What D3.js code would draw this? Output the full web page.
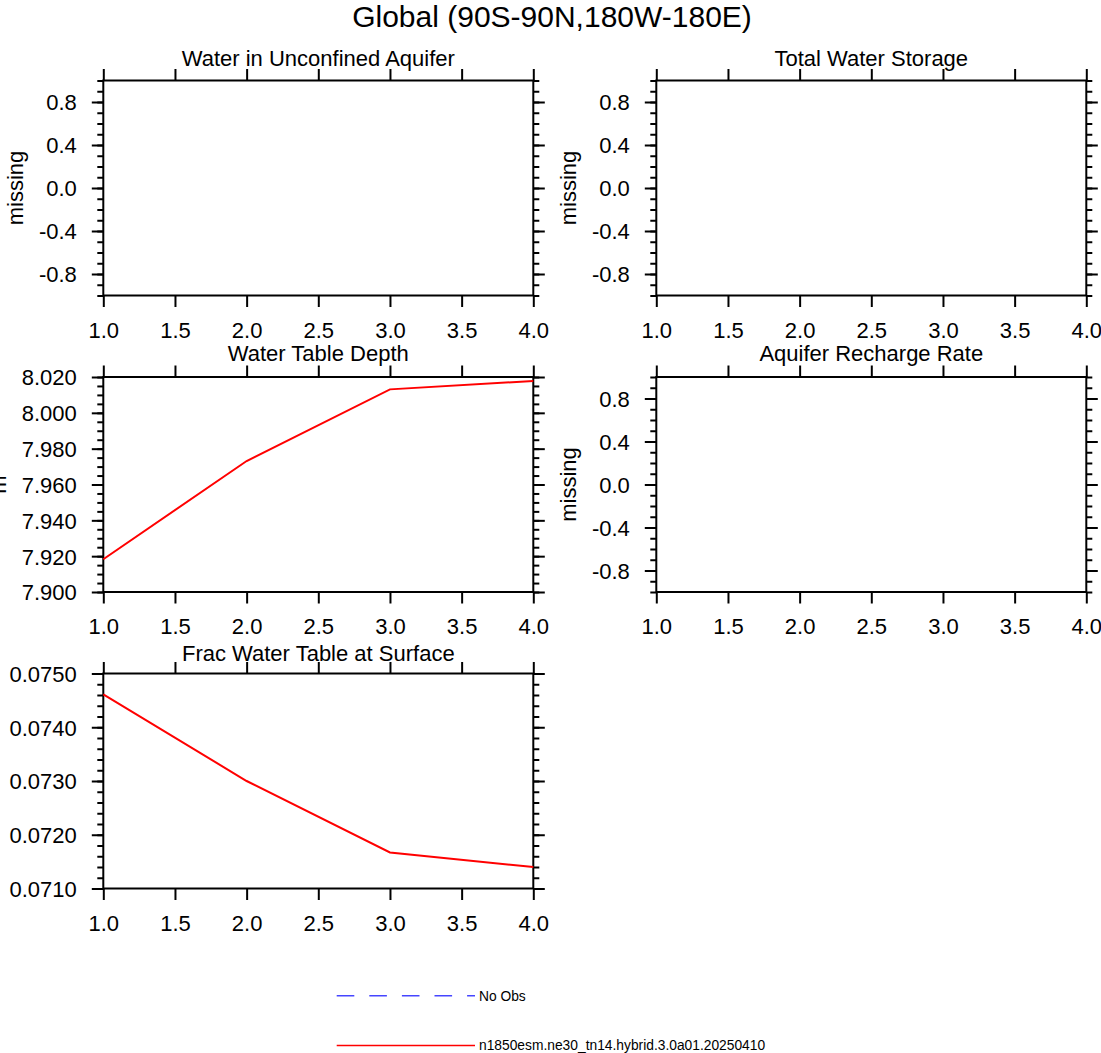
<!DOCTYPE html>
<html>
<head>
<meta charset="utf-8">
<script src="https://cdn.jsdelivr.net/npm/d3@7"></script>
<style>
  body { margin: 0; background: #fff; }
  svg { display: block; }
  text { font-family: "Liberation Sans", Arial, Helvetica, sans-serif; fill: #000; }
</style>
</head>
<body>
<div id="chart"></div>
<script>
// x values (years) shared by every panel
var years = [1, 2, 3, 4];
var xTicks = [1.0, 1.5, 2.0, 2.5, 3.0, 3.5, 4.0];

// panel titles / units
var panelTitles = ["Water in Unconfined Aquifer", "Total Water Storage", "Water Table Depth",
                   "Aquifer Recharge Rate", "Frac Water Table at Surface"];
var panelUnits = ["missing", "missing", "m", "missing", ""];

// series values (null = no data)
var waterUnconfined = null;
var totalWaterStorage = null;
var waterTableDepth = [7.9183, 7.9731, 8.0131, 8.0178];
var aquiferRecharge = null;
var fracWaterSurface = [0.07461, 0.07300, 0.07167, 0.07140];

// y axis setups: [min, max, major step, minor step, decimals]
var yEmpty = [-1, 1, 0.4, 0.1, 1];
var yDepth = [7.900, 8.020, 0.020, 0.005, 3];
var yFrac = [0.0710, 0.0750, 0.0010, 0.0002, 4];
var yEmptyMajors = [-0.8, -0.4, 0, 0.4, 0.8];

var legendLabels = ["No Obs", "n1850esm.ne30_tn14.hybrid.3.0a01.20250410"];
var legendColors = ["#4646ff", "#ff0000"];

var W = 1101, H = 1053;
var svg = d3.select("#chart").append("svg").attr("width", W).attr("height", H);

// plain hyphen for negative numbers, like the original plot
var locale = d3.formatLocale({decimal: ".", thousands: ",", grouping: [3], currency: ["", ""], minus: "-"});

svg.append("text")
  .attr("x", 552).attr("y", 27)
  .attr("text-anchor", "middle")
  .style("font-size", "30px")
  .text("Global (90S-90N,180W-180E)");

// layout of the panels
var colLeft = [103.3, 656.3];
var rowTop = [80.5, 377, 673.5];
var pw = 430, ph = 215;
var majorLen = 11.5, minorLen = 6;

var panels = [
  {title: panelTitles[0], unit: panelUnits[0], data: waterUnconfined, y: yEmpty, col: 0, row: 0, tgap: 15},
  {title: panelTitles[1], unit: panelUnits[1], data: totalWaterStorage, y: yEmpty, col: 1, row: 0, tgap: 15},
  {title: panelTitles[2], unit: panelUnits[2], data: waterTableDepth, y: yDepth, col: 0, row: 1, tgap: 16},
  {title: panelTitles[3], unit: panelUnits[3], data: aquiferRecharge, y: yEmpty, col: 1, row: 1, tgap: 16},
  {title: panelTitles[4], unit: panelUnits[4], data: fracWaterSurface, y: yFrac, col: 0, row: 2, tgap: 12.5}
];

function range(a, b, step) {
  var out = [];
  var n = Math.round((b - a) / step);
  for (var i = 0; i <= n; i++) out.push(a + i * step);
  return out;
}

panels.forEach(function(p) {
  var x0 = colLeft[p.col], y0 = rowTop[p.row];
  var g = svg.append("g").attr("transform", "translate(" + x0 + "," + y0 + ")");

  var xScale = d3.scaleLinear().domain([1, 4]).range([0, pw]);
  var yScale = d3.scaleLinear().domain([p.y[0], p.y[1]]).range([ph, 0]);
  var majors = (p.y === yEmpty) ? yEmptyMajors : range(p.y[0], p.y[1], p.y[2]);
  var minors = range(p.y[0], p.y[1], p.y[3]);

  // axes: outward ticks on all four sides
  var fmtX = locale.format(".1f"), fmtY = locale.format("." + p.y[4] + "f");
  var bottom = g.append("g").attr("transform", "translate(0," + ph + ")")
    .call(d3.axisBottom(xScale).tickValues(xTicks).tickFormat(fmtX).tickSize(majorLen).tickPadding(10));
  var top = g.append("g")
    .call(d3.axisTop(xScale).tickValues(xTicks).tickFormat("").tickSize(majorLen));
  var leftMinor = g.append("g")
    .call(d3.axisLeft(yScale).tickValues(minors).tickFormat("").tickSize(minorLen));
  var left = g.append("g")
    .call(d3.axisLeft(yScale).tickValues(majors).tickFormat(fmtY).tickSize(majorLen).tickPadding(15));
  var rightMinor = g.append("g").attr("transform", "translate(" + pw + ",0)")
    .call(d3.axisRight(yScale).tickValues(minors).tickFormat("").tickSize(minorLen));
  var right = g.append("g").attr("transform", "translate(" + pw + ",0)")
    .call(d3.axisRight(yScale).tickValues(majors).tickFormat("").tickSize(majorLen));

  [bottom, top, leftMinor, left, rightMinor, right].forEach(function(a) {
    a.select(".domain").remove();
    a.selectAll("line").attr("stroke", "#000").attr("stroke-width", 2);
    a.selectAll("text").style("font-size", "22px").attr("fill", "#000")
      .style("font-family", "Liberation Sans, Arial, sans-serif");
  });
  bottom.selectAll("text").attr("dy", "0.95em");
  left.selectAll("text").attr("dy", "0.36em");

  g.append("rect")
    .attr("width", pw).attr("height", ph)
    .attr("fill", "none").attr("stroke", "#000").attr("stroke-width", 2);

  g.append("text")
    .attr("x", pw / 2).attr("y", -p.tgap)
    .attr("text-anchor", "middle")
    .style("font-size", "22px")
    .text(p.title);

  // y-axis title goes left of the widest tick label
  var maxW = 0;
  left.selectAll("text").each(function() { maxW = Math.max(maxW, this.getComputedTextLength()); });
  if (p.unit) {
    var tx = -majorLen - 15 - maxW - 16;
    g.append("text")
      .attr("transform", "translate(" + tx + "," + (ph / 2) + ") rotate(-90)")
      .attr("text-anchor", "middle")
      .style("font-size", "22px")
      .text(p.unit);
  }

  if (p.data) {
    var line = d3.line()
      .x(function(d, i) { return xScale(years[i]); })
      .y(function(d) { return yScale(d); });
    g.append("path")
      .datum(p.data)
      .attr("d", line)
      .attr("fill", "none")
      .attr("stroke", "#ff0000")
      .attr("stroke-width", 2);
  }
});

// legend
var lg = svg.append("g");
var legendX = d3.scaleLinear().domain([0, 1]).range([336.7, 475]);
var legendY = d3.scalePoint().domain(legendLabels).range([995.7, 1045.5]);
legendLabels.forEach(function(lab, i) {
  lg.append("line")
    .attr("x1", legendX(0)).attr("x2", legendX(1))
    .attr("y1", legendY(lab)).attr("y2", legendY(lab))
    .attr("stroke", legendColors[i])
    .attr("stroke-width", i === 0 ? 1.6 : 1.3)
    .attr("stroke-dasharray", i === 0 ? "17.6,15" : null);
  lg.append("text")
    .attr("x", legendX(1) + 4).attr("y", legendY(lab))
    .attr("dy", "0.36em")
    .style("font-size", "13.8px")
    .text(lab);
});
</script>
</body>
</html>
